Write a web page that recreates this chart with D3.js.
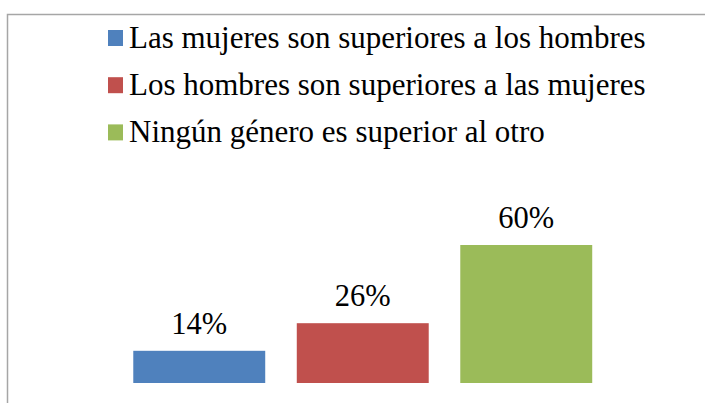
<!DOCTYPE html>
<html>
<head>
<meta charset="utf-8">
<script src="https://cdn.jsdelivr.net/npm/d3@7"></script>
</head>
<body style="margin:0; background:#fff">
<script>
const width = 705;
const height = 403;
const serif_font = "Times New Roman";

// data
const categories = ["Las mujeres son superiores a los hombres",
                    "Los hombres son superiores a las mujeres",
                    "Ningún género es superior al otro"];
const values = [0.14, 0.26, 0.60];
const colors = ["#4f81bd", "#c0504d", "#9bbb59"];

let svg = d3.select("body").append("svg")
        .attr("width", width)
        .attr("height", height);

// chart frame (only top and left edges show)
svg.append("path")
   .attr("d", "M" + width + ",14.5H7.5V" + height)
   .attr("fill", "none")
   .attr("stroke", "#a6a6a6").attr("stroke-width", 1.5);

let x = d3.scaleBand()
          .domain(categories)
          .range([117.5, 608])
          .paddingInner(0.193)
          .paddingOuter(0.0965);

let y = d3.scaleLinear()
          .domain([0, 0.7])
          .range([383, 222]);

svg.selectAll(".bar")
    .data(values)
    .join("rect")
    .attr("class", "bar")
    .attr("x", (d, i) => x(categories[i]))
    .attr("width", x.bandwidth())
    .attr("y", d => y(d))
    .attr("height", d => y(0) - y(d))
    .attr("fill", (d, i) => colors[i]);

svg.selectAll(".label")
    .data(values)
    .join("text")
    .attr("class", "label")
    .attr("x", (d, i) => x(categories[i]) + x.bandwidth() / 2)
    .attr("y", d => y(d) - 17)
    .attr("text-anchor", "middle")
    .attr("font-family", serif_font)
    .attr("font-size", 30.5)
    .text(d => d3.format(".0%")(d));

// legend
const legend_x = 108;
const legend_y = 48;
const legend_step = 47.2;

svg.selectAll(".swatch")
    .data(categories)
    .join("rect")
    .attr("class", "swatch")
    .attr("x", legend_x)
    .attr("y", (d, i) => legend_y + i * legend_step - 18)
    .attr("width", 15).attr("height", 16)
    .attr("fill", (d, i) => colors[i]);

svg.selectAll(".legend")
    .data(categories)
    .join("text")
    .attr("class", "legend")
    .attr("x", legend_x + 21)
    .attr("y", (d, i) => legend_y + i * legend_step)
    .attr("font-family", serif_font)
    .attr("font-size", 31)
    .text(d => d);
</script>
</body>
</html>
